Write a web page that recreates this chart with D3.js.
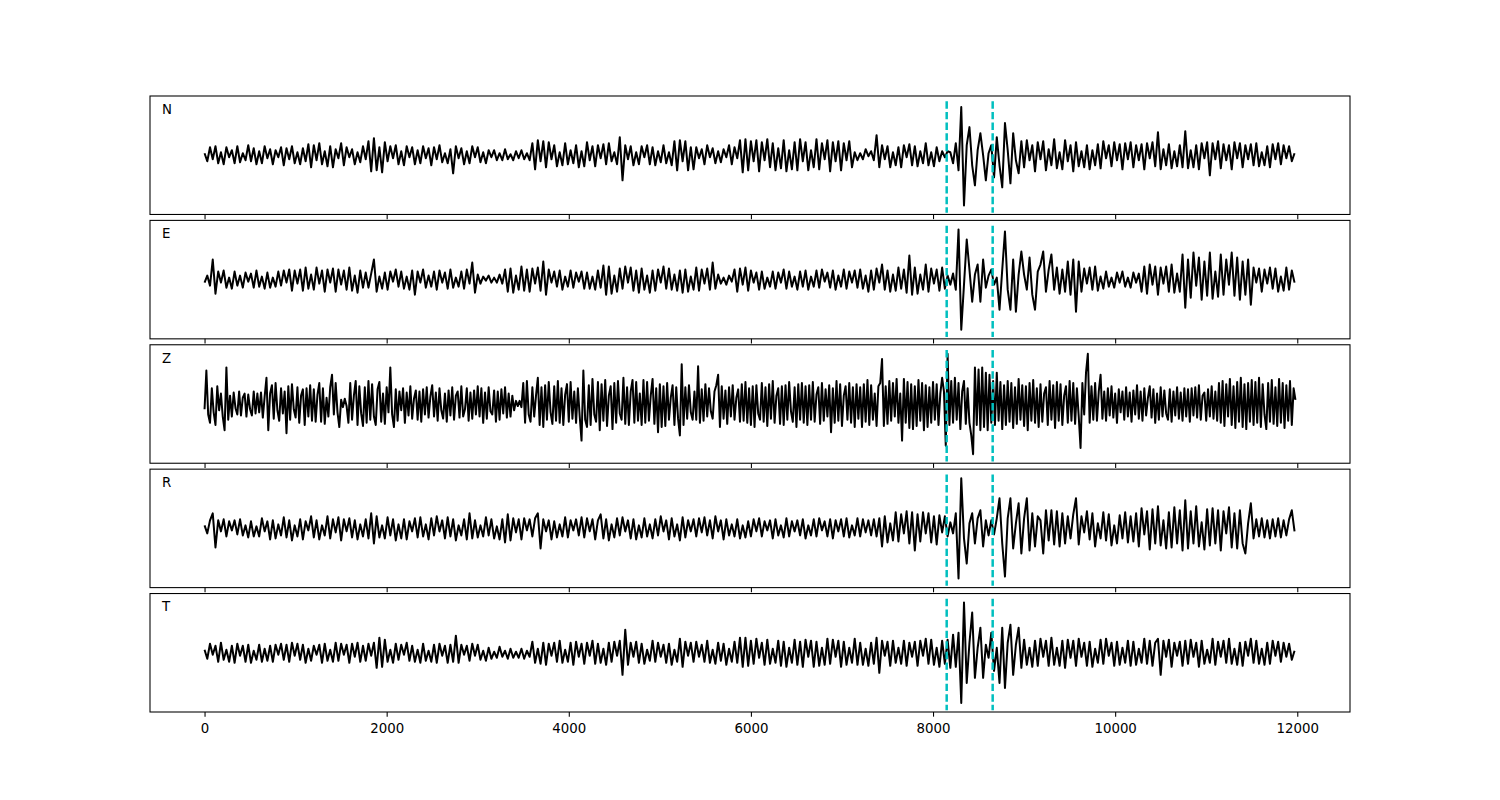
<!DOCTYPE html>
<html><head><meta charset="utf-8">
<script src="https://cdn.jsdelivr.net/npm/d3@7"></script>
<style>body{margin:0;background:#fff}svg{display:block}text{font-family:"DejaVu Sans",sans-serif}</style>
</head><body><svg id="chart" width="1500" height="800"></svg>
<script>
const componentNames = ["N", "E", "Z", "R", "T"];
const sampleSteps = [30, 30, 20, 30, 30];   // time units between samples, per trace
const pickTimes = [8150, 8655];             // dashed phase picks
const xTickValues = [0, 2000, 4000, 6000, 8000, 10000, 12000];

const traceN = [
2,-6,8,-4,9,-8,3,-9,8,-2,5,-8,9,-7,2,-5,10,-6,7,-9,
4,-8,9,-3,6,-9,5,-2,8,-10,7,-4,9,-8,3,-9,7,-6,11,-12,
10,-5,12,-9,4,-11,9,-12,6,-3,12,-10,8,-2,6,-9,3,-7,9,-4,
14,-16,17,-15,8,-17,13,-6,9,-3,10,-9,4,-10,9,-2,8,-9,5,-8,
9,-3,7,-10,8,-4,10,-7,2,-8,6,-18,9,-3,7,-9,4,-8,9,-2,
8,-7,3,-8,5,-2,5,-5,2,-5,6,-4,1,-5,4,-3,5,-4,2,-5,
12,-14,15,-6,14,-12,13,-4,10,-11,3,-10,12,-9,5,-8,10,-12,4,-11,
13,-5,9,-11,10,-3,11,-9,12,-6,3,-9,18,-25,10,-4,9,-10,3,-9,
9,-2,10,-9,8,-10,4,-7,10,-8,3,-10,14,-15,15,-6,14,-15,8,-14,
8,-3,6,-9,10,-2,7,-8,4,-7,6,-2,10,-9,8,-3,15,-17,16,-15,
14,-6,15,-16,13,-5,16,-12,12,-15,7,-13,15,-16,5,-14,13,-15,16,-6,
13,-15,5,-12,16,-14,12,-4,15,-16,13,-6,14,-15,12,-5,14,-12,3,-5,
2,-4,6,-1,4,-5,20,-12,10,-4,9,-12,3,-10,8,-12,10,-2,11,-10,
9,-11,4,-8,12,-10,3,-11,8,-6,4,-2,4,3,-8,12,-15,48,-50,10,
28,-10,-30,5,22,0,-25,2,10,-22,18,-10,-32,32,5,-28,22,-5,-18,14,
-12,15,-5,10,-16,13,-4,14,-15,6,-10,16,-13,3,-14,15,-6,10,-16,13,
-11,4,-12,10,-14,5,-10,11,-13,14,-3,10,-11,13,-5,11,-14,12,-4,13,
-12,10,-5,11,-14,12,-3,13,-11,23,-14,6,-10,11,-13,4,-11,10,-12,24,
-13,5,-12,10,-14,12,-3,13,-20,12,-4,14,-13,11,-5,10,-14,13,-3,12,
-12,10,-4,11,-10,12,-11,3,-10,9,-12,11,-4,12,-9,10,-3,9,-6,2
];
const traceE = [
-3,4,-6,20,-14,8,-3,9,-8,2,-9,8,-6,4,-8,7,-2,6,-8,9,
-7,3,-9,7,-8,2,-7,8,-6,9,-3,10,-11,9,-4,10,-11,12,-9,5,
-10,12,-4,9,-12,10,-3,11,-12,10,-5,9,-10,12,-11,4,-13,9,-8,7,
-8,6,20,-12,3,-9,7,-10,8,-2,10,-7,8,-9,3,-10,9,-15,8,-3,
10,-8,4,-7,8,-10,9,-3,7,-9,10,-8,2,-7,8,-9,10,-4,17,-13,
5,-4,3,-1,4,-3,2,-3,5,-4,10,-12,11,-13,4,-10,13,-11,10,-12,
11,-4,12,-11,18,-15,10,-3,8,-7,9,-10,3,-7,9,-8,7,-2,8,-9,
7,-9,3,-10,9,-8,14,-15,13,-14,4,-12,11,-9,13,-3,12,-11,9,-13,
11,-10,4,-13,9,-11,10,-3,13,-9,11,-10,5,-11,9,-13,10,-12,3,-10,
12,-11,10,-4,11,-10,17,-9,5,-4,2,-5,4,-2,10,-12,11,-5,12,-11,
9,-3,7,-10,8,-9,2,-7,8,-9,7,-3,10,-9,8,-7,3,-10,8,-7,
9,-10,3,-7,9,-8,10,-2,7,-8,9,-10,4,-7,10,-9,8,-3,9,-8,
10,-9,4,-12,9,-10,11,-3,15,-10,9,-12,5,-11,12,-9,10,-13,24,-15,
12,-14,5,-10,15,-12,11,-4,10,-11,12,-9,4,-5,6,-10,50,-50,-5,40,
10,-22,5,15,-22,20,-8,4,10,-5,2,-30,10,48,-10,-30,20,-32,5,28,
5,-10,22,-15,-30,8,15,28,-12,10,25,-10,12,-14,10,-12,18,-15,20,-32,
18,-12,11,-4,12,-10,13,-11,3,-9,8,-7,2,-8,7,-3,8,-7,2,-8,
7,-3,6,-12,13,-14,15,-5,13,-15,12,-4,13,-12,15,-13,6,-12,25,-28,
20,-18,27,-6,22,-20,18,-16,27,-19,8,-17,25,-15,20,-5,27,-16,22,-20,
18,-15,20,-25,12,-3,11,-12,10,-4,12,-9,11,-12,3,-11,12,-10,9,-3
];
const traceZ = [
-5,32,-10,-18,15,-8,-20,17,-6,10,-12,-25,35,-15,8,-12,11,-4,-10,12,-11,6,10,-12,9,-5,-11,12,-9,10,
-8,11,-13,7,25,-25,10,18,-14,20,-6,-16,15,-9,12,-28,17,-15,19,-5,-13,16,-18,8,14,-20,15,-12,18,-16,
14,-17,9,20,-17,15,-19,6,-12,16,28,-10,20,-8,-22,4,-3,5,-2,-18,20,-15,8,22,-20,17,-9,-21,16,-18,
22,-15,19,-12,-20,14,21,-17,10,-19,16,-8,35,-10,-22,14,-16,12,-6,15,-18,11,-11,17,-14,5,13,-15,12,-17,
14,-10,16,-13,7,18,-12,11,-16,15,-6,-14,10,-17,13,-11,16,-15,8,12,-13,17,-12,-5,15,-16,11,-14,13,-10,
17,-12,15,-18,11,-14,16,-7,-10,13,-17,12,-15,14,-9,16,-13,10,-12,8,-6,3,-2,3,-3,20,-18,22,-10,-17,
16,-12,8,25,-20,16,-22,18,-15,21,-8,-19,17,-16,22,-18,15,-20,9,19,-17,21,-14,12,-18,15,-12,-35,32,-15,
-22,18,-20,24,-10,-17,21,-25,19,-16,23,-21,8,17,-24,20,-18,22,-9,-15,25,-19,16,-20,12,23,-18,21,-16,10,
-20,23,-18,21,-16,8,24,-19,15,-27,19,-22,17,-21,20,-15,6,18,-20,16,-14,-30,38,-20,16,-14,18,-8,-15,12,
-15,36,-18,14,-16,19,-12,15,-7,-14,12,18,28,-22,17,-14,13,-19,16,-12,18,-15,6,14,-17,19,-16,21,-18,15,
-20,17,-22,18,-9,-15,20,-17,16,-21,19,-14,22,-18,8,15,-19,17,-20,18,-15,21,-7,-17,16,-22,19,-15,20,-18,
17,-20,18,-15,21,-17,9,16,-19,20,-16,14,-12,18,-27,15,-18,22,-16,19,-21,8,17,-15,20,-18,16,-22,19,-14,
16,-22,19,-17,23,-20,18,-15,10,-21,17,20,43,-21,17,-19,22,-16,20,-12,24,-18,10,-35,24,-18,21,-23,19,-24,
17,-21,23,-16,20,-25,18,-22,16,-18,21,-15,19,-20,10,25,12,-40,48,-20,22,-18,25,-15,20,-24,12,22,-19,15,
-18,-30,-48,35,-20,33,-25,35,-22,30,-25,28,-18,22,-20,30,-16,21,-24,18,-20,22,-17,20,-23,16,-19,24,-15,18,
-21,17,-25,20,-16,23,-18,15,-22,19,-17,10,16,-20,22,-15,18,-23,21,-16,19,-20,8,17,-18,22,-16,20,-19,15,
-12,-42,20,-10,30,48,-18,17,-15,20,-16,12,28,-14,12,-16,15,-11,17,-13,10,-18,14,-8,12,-15,16,-12,11,-17,
13,-10,18,-14,12,-16,15,-11,6,17,-13,14,-18,10,-15,16,-12,13,-9,-15,14,-17,12,-11,16,-14,11,-16,15,-12,
14,-17,15,-11,16,-13,18,-15,8,11,-16,14,-12,17,-14,12,-16,20,-18,22,-21,19,-12,24,-20,17,-23,21,-17,25,
-22,19,-24,20,-17,23,-20,21,-18,25,-22,19,-10,-24,20,-17,23,-19,16,-21,24,-18,20,-23,18,-16,22,-20,15,4
];
const traceR = [
3,-5,8,15,-19,8,-3,9,-8,7,-2,8,-6,9,-7,3,-9,7,-8,2,
-8,10,-3,7,-11,8,-10,4,-7,11,-9,8,-12,3,-8,9,-11,7,-2,12,
-9,8,-11,3,-7,12,-10,9,-4,11,-12,9,-3,10,-9,8,-11,4,-8,9,
-10,15,-15,12,-9,3,-10,11,-7,9,-12,4,-10,9,-11,7,-3,10,-9,11,
-8,4,-11,10,-7,12,-3,8,-10,11,-8,9,-12,3,-7,9,-11,15,-10,8,
-9,3,-8,11,-7,9,-10,2,-11,9,-14,14,-12,10,-4,9,-11,10,-2,9,
-8,10,15,-20,9,-3,8,-11,7,-9,4,-8,11,-9,8,-2,9,-7,11,-9,
10,-3,9,-11,8,14,-10,9,-12,4,-9,10,-7,11,-3,8,-10,9,-11,3,
-9,10,-8,4,-10,9,-7,12,-3,8,-11,10,-8,4,-12,11,-9,8,-3,9,
-8,10,-4,11,-7,8,-10,12,-3,8,-11,9,-7,4,-8,9,-10,3,-9,7,
-8,9,-3,10,-8,7,-2,8,-10,9,-7,3,-9,10,-8,7,-3,8,-7,9,
-10,3,-7,9,-8,10,-2,7,-8,9,-10,8,-3,9,-8,10,-9,3,-7,10,
-8,9,-4,8,-7,9,-8,10,-18,12,-14,5,-12,16,-13,14,-5,17,-15,16,
-22,14,-13,16,-5,15,-14,12,-16,13,-4,12,-8,6,-5,15,-50,50,-10,-35,
5,15,-15,10,18,-18,8,-7,8,-6,10,30,-15,-48,10,30,-20,5,25,-25,
10,30,-22,15,-18,12,8,-25,18,-12,18,-16,17,-18,15,-15,12,-10,14,30,
-16,12,-4,17,-11,15,-18,5,-10,16,-12,14,-17,3,-15,13,-10,16,-14,12,
-13,15,-18,20,-6,17,-21,19,-15,22,-17,8,-20,16,-19,21,-15,18,-22,28,
-20,17,-15,22,-18,6,-21,19,-17,20,-15,18,-22,17,-5,21,-19,15,-20,18,
-15,-25,5,25,-10,9,-8,10,-9,8,-10,9,-8,10,-9,8,-7,9,18,-3
];
const traceT = [
3,-6,9,-2,7,-9,10,-7,3,-9,7,-10,9,-3,7,-9,8,-10,2,-7,
8,-9,4,-8,7,-9,8,-2,9,-7,8,-9,10,-3,9,-7,8,-10,4,-8,
7,-2,8,-10,9,-8,3,-9,10,-8,9,-2,8,-10,9,-4,10,-9,7,-8,
9,-3,10,-15,15,-14,13,-9,3,-10,9,-7,8,-2,10,-8,7,-9,3,-10,
9,-8,2,-9,8,-10,9,-3,7,-10,8,-9,17,-10,8,-2,7,-8,9,-3,
8,-7,2,-8,5,-6,1,-5,6,-4,2,-6,4,-5,1,-5,4,-6,2,-4,
11,-10,4,-11,10,-12,9,-3,10,-9,12,-10,3,-9,10,-12,11,-4,9,-11,
10,-3,12,-11,9,-10,4,-12,10,-9,11,-3,12,-22,23,-12,10,-4,11,-10,
9,-11,3,-8,12,-9,10,-4,8,-10,9,-12,3,-9,14,-14,11,-3,10,-9,
11,-4,8,-9,12,-10,3,-11,10,-8,9,-12,4,-9,11,-10,15,-14,15,-13,
12,-11,14,-5,10,-12,13,-11,4,-10,12,-13,11,-14,5,-10,13,-12,11,-14,
13,-4,12,-14,11,-13,5,-12,14,-11,13,-4,12,-14,11,-12,5,-10,14,-12,
10,-12,4,-13,10,-11,15,-20,12,-3,11,-13,12,-10,5,-11,12,-13,10,-4,
11,-13,12,-3,14,-11,13,-12,5,-14,12,-11,13,-15,18,-14,20,-50,50,-30,
10,40,-25,5,25,-25,8,-5,20,-18,5,-30,25,-35,10,28,-22,8,25,-15,
13,-12,5,-14,12,-13,14,-4,12,-13,15,-12,5,-13,12,-15,13,-5,12,-13,
14,-4,10,-13,11,-14,4,-10,13,-11,14,-3,10,-13,11,-12,5,-10,12,-13,
11,-12,4,-10,14,-11,12,-13,10,14,-22,12,-4,13,-14,10,-3,11,-13,12,
-11,13,-4,10,-14,12,-11,3,-10,14,-12,11,-4,12,-10,14,-11,4,-12,10,
-13,11,-3,14,-10,12,-11,4,-12,10,-11,12,-3,11,-9,10,-4,9,-7,2
];
const traces = [traceN, traceE, traceZ, traceR, traceT];

// ---------- layout (matplotlib-like subplots) ----------
const figLeft = 150, figRight = 1350, figTop = 96, figBottom = 712, hspace = 0.05;
const nPanels = traces.length;
const panelH = (figBottom - figTop) / (nPanels + (nPanels - 1) * hspace);
const gapH = panelH * hspace;

const svg = d3.select("#chart");
svg.append("rect").attr("width", 1500).attr("height", 800).attr("fill", "#fff");

const tMax = d3.max(traces, (t, i) => (t.length - 1) * sampleSteps[i]);
const xPad = 0.05 * tMax;
const x = d3.scaleLinear().domain([-xPad, tMax + xPad]).range([figLeft, figRight]);

traces.forEach((vals, i) => {
  const y0 = figTop + i * (panelH + gapH);
  const amp = d3.max(vals, v => Math.abs(v));
  const y = d3.scaleLinear().domain([-1.18 * amp, 1.18 * amp]).range([y0 + panelH, y0]);
  const g = svg.append("g");
  const step = sampleSteps[i];

  const clipId = "clip" + i;
  g.append("clipPath").attr("id", clipId).append("rect")
    .attr("x", figLeft).attr("y", y0).attr("width", figRight - figLeft).attr("height", panelH);

  const line = d3.line()
    .x((d, j) => x(j * step))
    .y(d => y(d))
    .curve(d3.curveLinear);

  g.append("path").datum(vals)
    .attr("clip-path", `url(#${clipId})`)
    .attr("d", line)
    .attr("fill", "none").attr("stroke", "#000")
    .attr("stroke-width", 2).attr("stroke-linejoin", "round");

  // dashed picks
  g.selectAll("line.pick").data(pickTimes).join("line")
    .attr("class", "pick")
    .attr("x1", d => x(d)).attr("x2", d => x(d))
    .attr("y1", y0 + panelH * 0.045).attr("y2", y0 + panelH * 0.985)
    .attr("stroke", "#00bfbf").attr("stroke-width", 2.5)
    .attr("stroke-dasharray", "7.4,3.2");

  // frame
  g.append("rect")
    .attr("x", figLeft).attr("y", y0)
    .attr("width", figRight - figLeft).attr("height", panelH)
    .attr("fill", "none").attr("stroke", "#000").attr("stroke-width", 1.07);

  // bottom axis ticks (labels only on last panel)
  const axis = d3.axisBottom(x).tickValues(xTickValues)
    .tickSize(4.67).tickPadding(4.67)
    .tickFormat(i === nPanels - 1 ? d3.format("d") : () => "");
  const ag = g.append("g").attr("transform", `translate(0,${y0 + panelH})`).call(axis);
  ag.select(".domain").remove();
  ag.selectAll(".tick line").attr("stroke", "#000").attr("stroke-width", 1.07);
  ag.selectAll(".tick text").attr("fill", "#000")
    .attr("font-family", "DejaVu Sans, sans-serif").attr("font-size", 13.33).attr("dy", "0.85em");

  // component label
  g.append("text")
    .attr("x", figLeft + 0.01 * (figRight - figLeft))
    .attr("y", y0 + 0.15 * panelH)
    .attr("font-size", 13.33).attr("fill", "#000")
    .text(componentNames[i]);
});
</script>
</body></html>
